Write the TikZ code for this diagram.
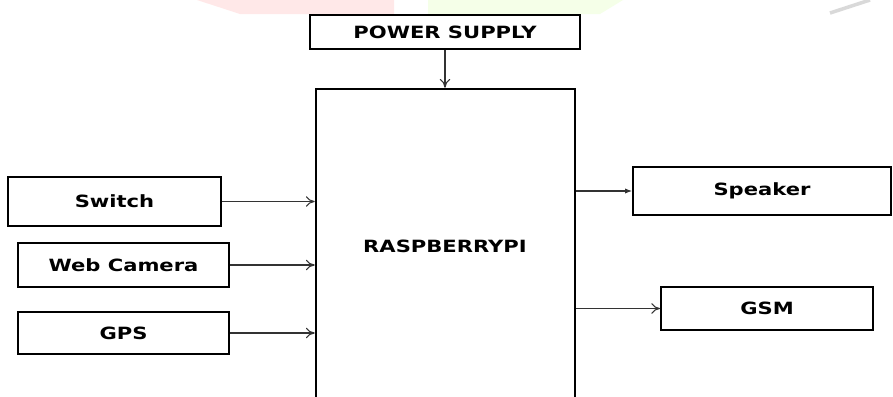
\documentclass[tikz,border=0pt]{standalone}
\usepackage{fontspec}
\setmainfont[FakeStretch=1.25]{DejaVu Sans}
\usetikzlibrary{arrows.meta}

\tikzset{
  blk/.style={draw, line width=1.1pt, fill=white, font=\fontsize{9.6}{11}\selectfont\bfseries, inner sep=0pt},
  link/.style={line width=0.6pt, draw=black!80, -{To[length=5pt,width=6pt]}},
  linkf/.style={line width=0.6pt, draw=black!80, -{Latex[length=4pt,width=3pt]}}
}

\begin{document}
\begin{tikzpicture}[x=0.02cm, y=-0.02cm]
    \clip (0,0) rectangle (893,396);
    \fill[white] (0,0) rectangle (893,396);
    % faint watermark
    \fill[red!9] (197,0) -- (394,0) -- (394,14) -- (240,14) -- cycle;
    \fill[green!45!yellow!9] (428,0) -- (623,0) -- (600,14) -- (428,14) -- cycle;
    \draw[gray!30, line width=2pt] (830,13) -- (870,0);
    % blocks
    \node[blk, minimum width=5.4cm, minimum height=0.68cm] (pwr) at (445,32) {POWER SUPPLY};
    \node[blk, line width=1.5pt, minimum width=5.18cm, minimum height=6.66cm] (rpi) at (445.5,255.5) {};
    \node[font=\fontsize{9.6}{11}\selectfont\bfseries] (rpilbl) at (445,246) {RASPBERRYPI};
    \node[blk, minimum width=4.26cm, minimum height=0.98cm] (sw) at (114.5,201.5) {Switch};
    \node[blk, minimum width=4.22cm, minimum height=0.88cm] (cam) at (123.5,265) {Web Camera};
    \node[blk, minimum width=4.22cm, minimum height=0.84cm] (gps) at (123.5,333) {GPS};
    \node[blk, minimum width=5.16cm, minimum height=0.96cm] (spk) at (762,191) {Speaker};
    \node[blk, minimum width=4.24cm, minimum height=0.86cm] (gsm) at (767,308.5) {GSM};
    % connections
    \draw[link] (pwr.south) -- (rpi.north -| pwr.south);
    \draw[link] (sw.east) -- (sw.east -| rpi.west);
    \draw[link] (cam.east) -- (cam.east -| rpi.west);
    \draw[link] (gps.east) -- (gps.east -| rpi.west);
    \draw[linkf] (rpi.east |- spk.west) -- (spk.west);
    \draw[link] (rpi.east |- gsm.west) -- (gsm.west);
\end{tikzpicture}
\end{document}
